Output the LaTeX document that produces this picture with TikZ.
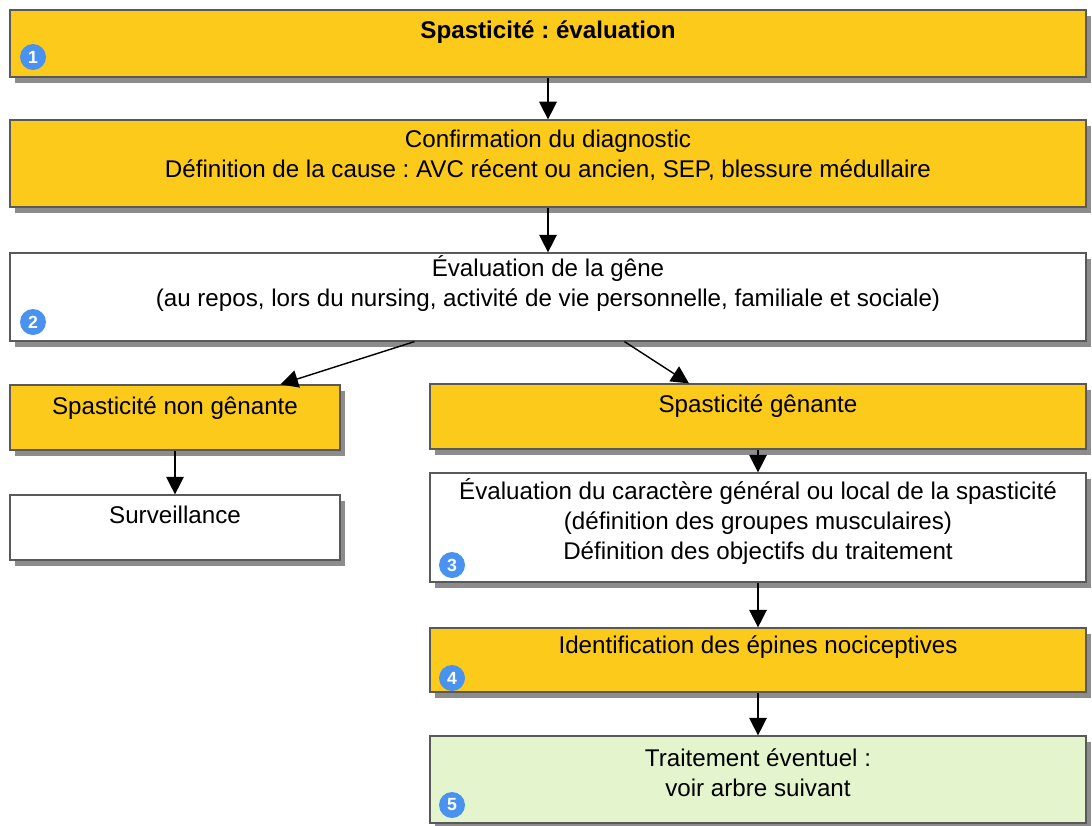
\documentclass[tikz,border=0pt]{standalone}
\usepackage{fontspec}
\setmainfont{Liberation Sans}
\usetikzlibrary{arrows.meta,shadows,calc}

\definecolor{jaune}{RGB}{251,202,26}
\definecolor{vertpale}{RGB}{228,245,205}
\definecolor{bleupastille}{RGB}{74,146,240}
\newcommand{\px}{0.567pt}
\frenchspacing

\tikzset{
  boite/.style={draw=black!65, line width=0.7pt, inner sep=0pt,
    drop shadow={shadow xshift=3pt, shadow yshift=-3.5pt, opacity=0.6, fill=black!75}},
  jaunebox/.style={boite, fill=jaune},
  blanc/.style={boite, fill=white},
  vert/.style={boite, fill=vertpale},
  texte/.style={align=center, font=\fontsize{13.7}{17}\selectfont},
  pastille/.style={circle, fill=bleupastille, text=white, inner sep=0pt,
    minimum size=26*\px, font=\bfseries\fontsize{10}{10}\selectfont},
  fleche/.style={-{Triangle[length=10pt,width=10pt]}, line width=0.8pt}
}

\begin{document}
\begin{tikzpicture}[x=\px, y=-\px]
\useasboundingbox (0,0) rectangle (1092,825);

% boites
\node[jaunebox, minimum width=1076*\px, minimum height=67*\px] (titre) at (548,43.5) {};
\node[jaunebox, minimum width=1076*\px, minimum height=87*\px] (diag) at (548,163.5) {};
\node[blanc, minimum width=1076*\px, minimum height=88*\px] (gene) at (548,297) {};
\node[jaunebox, minimum width=330*\px, minimum height=65*\px] (nongen) at (175,417.5) {};
\node[blanc, minimum width=330*\px, minimum height=65*\px] (surv) at (175,527.5) {};
\node[jaunebox, minimum width=656*\px, minimum height=65*\px] (genant) at (758,416.5) {};
\node[blanc, minimum width=656*\px, minimum height=109*\px] (evalgl) at (758,527.5) {};
\node[jaunebox, minimum width=656*\px, minimum height=64*\px] (epines) at (758,660) {};
\node[vert, minimum width=656*\px, minimum height=87*\px] (trait) at (758,779.5) {};

% textes
\node[texte] (titret) at (548,32) {\bfseries Spasticité : évaluation};
\node[texte] (diagt) at (548,155) {Confirmation du diagnostic\\
  Définition de la cause : AVC récent ou ancien, SEP, blessure médullaire};
\node[texte] (genet) at (548,283.5) {Évaluation de la gêne\\
  (au repos, lors du nursing, activité de vie personnelle, familiale et sociale)};
\node[texte] (nongent) at (175,408) {Spasticité non gênante};
\node[texte] (survt) at (175,515) {Surveillance};
\node[texte] (genantt) at (758,406) {Spasticité gênante};
\node[texte] (evalglt) at (758,521.5) {Évaluation du caractère général ou local de la spasticité\\
  (définition des groupes musculaires)\\Définition des objectifs du traitement};
\node[texte] (epinest) at (758,647) {Identification des épines nociceptives};
\node[texte] (traitt) at (758,772.5) {Traitement éventuel :\\voir arbre suivant};

% pastilles
\node[pastille] (p1) at (33,57) {1};
\node[pastille] (p2) at (33,322) {2};
\node[pastille] (p3) at (452,565) {3};
\node[pastille] (p4) at (452,678) {4};
\node[pastille] (p5) at (452,805) {5};

% fleches
\draw[fleche] (titre) -- (diag);
\draw[fleche] (diag) -- (gene);
\draw[fleche] ($(gene.south west)!0.376!(gene.south east)$) -- ($(nongen.north west)!0.818!(nongen.north east)$);
\draw[fleche] ($(gene.south west)!0.571!(gene.south east)$) -- ($(genant.north west)!0.395!(genant.north east)$);
\draw[fleche] (nongen) -- (surv);
\draw[fleche] (genant) -- (evalgl);
\draw[fleche] (evalgl) -- (epines);
\draw[fleche] (epines) -- (trait);
\end{tikzpicture}
\end{document}
